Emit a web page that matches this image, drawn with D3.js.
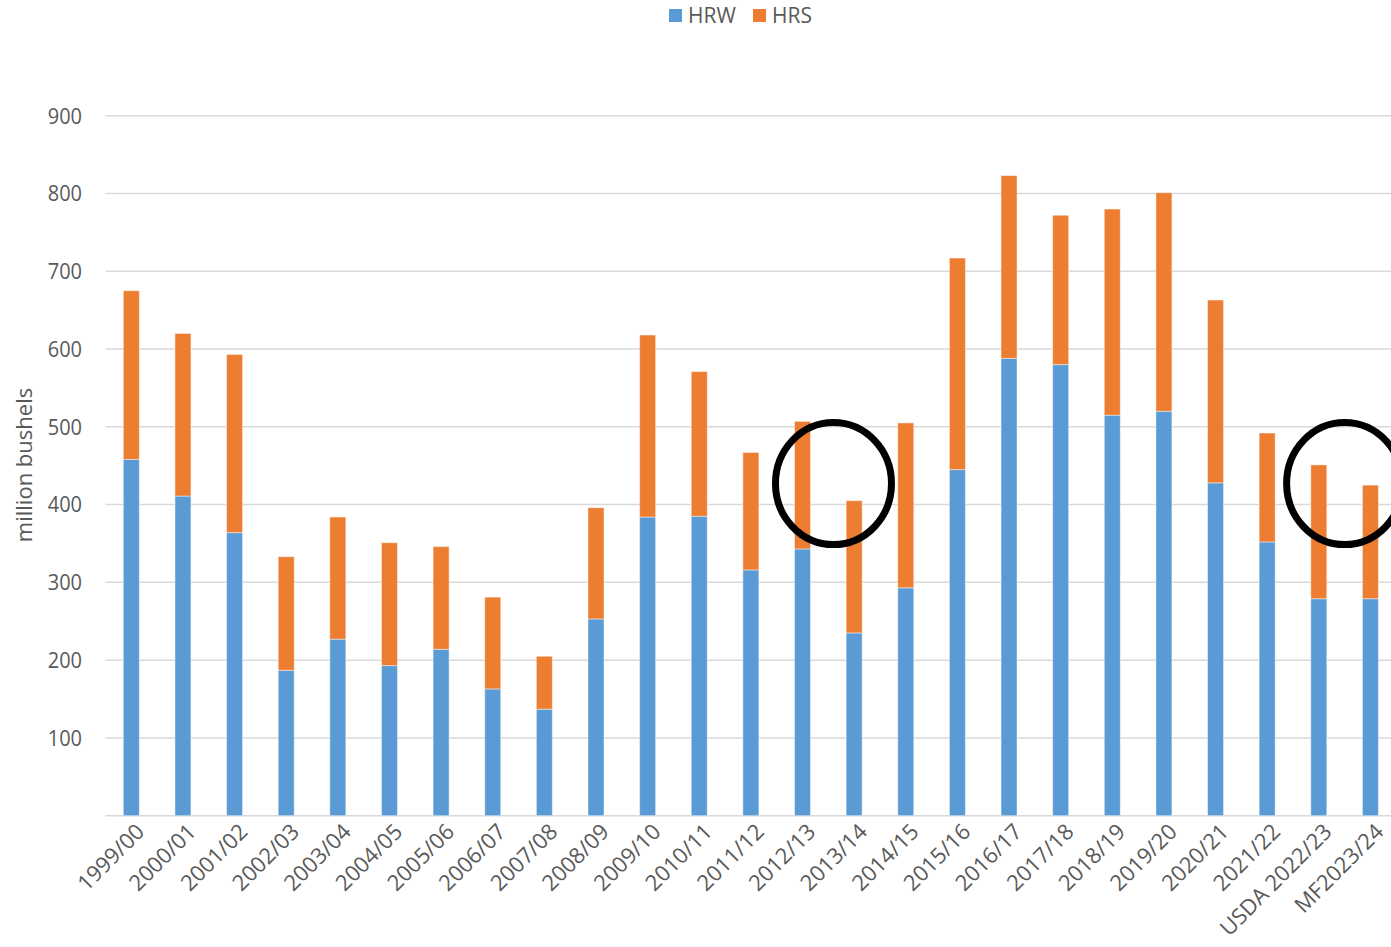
<!DOCTYPE html>
<html><head><meta charset="utf-8">
<script src="https://cdn.jsdelivr.net/npm/d3@7"></script>
<style>
html,body{margin:0;padding:0;background:#fff;overflow:hidden}
text{font-family:"Open Sans","Noto Sans",sans-serif;fill:#595959}
</style></head>
<body><svg id="chart" width="1391" height="947"></svg>
<script>
const categories = ["1999/00","2000/01","2001/02","2002/03","2003/04","2004/05","2005/06","2006/07","2007/08","2008/09","2009/10","2010/11","2011/12","2012/13","2013/14","2014/15","2015/16","2016/17","2017/18","2018/19","2019/20","2020/21","2021/22","USDA 2022/23","MF2023/24"];
const hrw = [458,411,364,187,227,193,214,163,137,253,384,385,316,343,235,293,445,588,580,515,520,428,352,279,279];
const totals = [675,620,593,333,384,351,346,281,205,396,618,571,467,507,405,505,717,823,772,780,801,663,492,451,425];
const hrs = totals.map((t,i)=>t-hrw[i]);
const seriesNames = ["HRW","HRS"];
const colors = ["#5B9BD5","#ED7D31"];
const yTicks = [100,200,300,400,500,600,700,800,900];
// annotation circles: position in category-index units and value
const circlePos = [13.6, 23.5];
const circleVal = [427, 427];

(function(){
const svg = d3.select("#chart");
const pLeft = 105.5, step = 51.63, pTop = 115.7, pBottom = 815.7;
const x = d3.scaleBand().domain(categories).range([pLeft, pLeft + step*categories.length]).paddingInner(0.69).paddingOuter(0.345);
const xi = d3.scaleLinear().domain([0, categories.length-1]).range([x(categories[0])+x.bandwidth()/2, x(categories[categories.length-1])+x.bandwidth()/2]);
const y = d3.scaleLinear().domain([0,900]).range([pBottom, pTop]);

svg.append("g").selectAll("line").data(yTicks).join("line")
  .attr("x1", pLeft).attr("x2", 1391).attr("y1", d=>y(d)).attr("y2", d=>y(d))
  .attr("stroke","#d9d9d9").attr("stroke-width",1.5);
svg.append("line").attr("x1",pLeft).attr("x2",1391).attr("y1",y(0)).attr("y2",y(0)).attr("stroke","#d9d9d9").attr("stroke-width",1.5);

svg.append("g").selectAll("text").data(yTicks).join("text")
  .attr("transform", d=>`translate(82,${y(d)}) scale(1,1.12)`).attr("dy","0.35em").attr("text-anchor","end")
  .attr("font-size",20).text(d=>d);

const stackData = categories.map((c,i)=>({cat:c, HRW:hrw[i], HRS:hrs[i]}));
const stack = d3.stack().keys(seriesNames)(stackData);
svg.append("g").selectAll("g").data(stack).join("g").attr("fill",(d,i)=>colors[i])
  .selectAll("rect").data(d=>d).join("rect")
  .attr("x", d=>x(d.data.cat)).attr("width", x.bandwidth())
  .attr("y", d=>y(d[1])).attr("height", d=>y(d[0])-y(d[1]))
  .attr("stroke","#ffffff").attr("stroke-opacity",0.45).attr("stroke-width",1);

svg.append("g").selectAll("text").data(categories).join("text")
  .attr("transform", d=>`translate(${x(d)+x.bandwidth()/2+9},${pBottom+12}) rotate(-45)`)
  .attr("text-anchor","end").attr("dy","0.35em").attr("font-size",22).text(d=>d);

svg.append("text").attr("transform","translate(32,465) rotate(-90)").attr("text-anchor","middle")
  .attr("font-size",22).text("million bushels");

const lg = svg.append("g");
const legX = [669, 753];
seriesNames.forEach((n,i)=>{
  lg.append("rect").attr("x",legX[i]).attr("y",9).attr("width",13).attr("height",13).attr("fill",colors[i]);
  lg.append("text").attr("x",legX[i]+19).attr("y",16).attr("dy","0.35em").attr("font-size",21).text(n);
});

svg.append("g").selectAll("ellipse").data(circlePos).join("ellipse")
  .attr("cx", d=>xi(d)).attr("cy",(d,i)=>y(circleVal[i]))
  .attr("rx",58).attr("ry",61).attr("fill","none").attr("stroke","#000").attr("stroke-width",7);
})();
</script></body></html>
